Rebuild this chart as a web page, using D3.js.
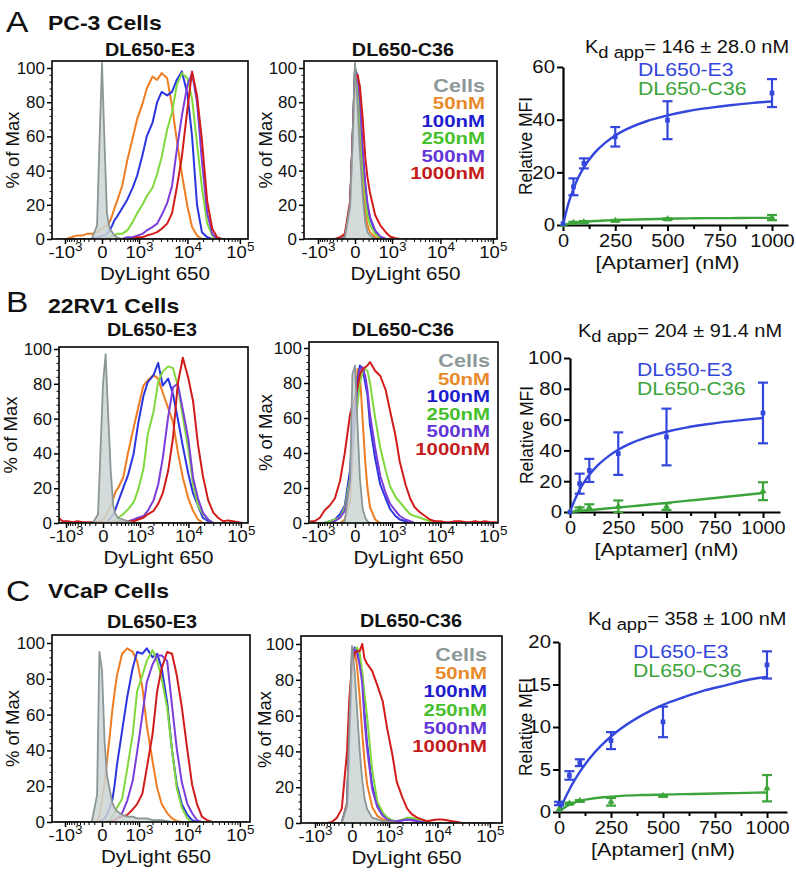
<!DOCTYPE html>
<html><head><meta charset="utf-8">
<script src="https://cdn.jsdelivr.net/npm/d3@7"></script>
<style>
body{margin:0;background:#fff}
svg{display:block}
text{font-family:"Liberation Sans",Arial,Helvetica,sans-serif}
</style>
</head><body>
<svg id="fig" width="796" height="874"></svg>
<script>
// ---------------- DATA ----------------
// flow-cytometry histogram bins (DyLight 650 fluorescence)
const flBins = [-1500,-1200,-900,-700,-500,-350,-230,-140,-60,-30,
  0,30,60,100,140,180,230,
  350,500,700,900,1200,1500,2000,2500,3100,4000,
  5000,6200,7800,10000,12300,15300,19000,24000,30000,37000,
  46000,57000,71000,88000,110000,136000];
const sampleNames = ["Cells","50nM","100nM","250nM","500nM","1000nM"];
const histTicksX = [-1000,0,1000,10000,100000];
const histTickLabels = [["-10","3"],["0",""],["10","3"],["10","4"],["10","5"]];
const histMinorX = [-900,-800,-700,-600,-500,-400,-300,-200,-100,100,200,300,400,500,600,700,800,900,
  2000,3000,4000,5000,6000,7000,8000,9000,20000,30000,40000,50000,60000,70000,80000,90000];
const histTicksY = [0,20,40,60,80,100];
const histMinorY = [4,8,12,16,24,28,32,36,44,48,52,56,64,68,72,76,84,88,92,96];

// % of Max per bin: [Cells, 50nM, 100nM, 250nM, 500nM, 1000nM]
const pc3E3 = [
 [0,0,0,0,0,0,0,0,8,55, 103,55,15,6,4,2,1, 0,0,0,0,0,0,0,0,0,0, 0,0,0,0,0,0,0,0,0,0, 0,0,0,0,0,0],
 [0,0,0,1,2,2,3,3,4,5, 6,7,8,10,14,18,22, 31,46,59,70,79,88,95,93,97,94, 78,58,38,19,7,2,0,0,0,0, 0,0,0,0,0,0],
 [0,0,0,0,0,0,0,0,1,1, 2,2,3,5,8,11,13, 18,23,30,37,49,60,68,80,86,84, 86,93,98,85,60,20,4,1,0,0, 0,0,0,0,0,0],
 [0,0,0,0,0,0,0,0,0,0, 0,0,1,1,2,2,3, 3,5,10,15,20,25,30,38,48,64, 74,90,97,94,82,56,30,9,2,0, 0,0,0,0,0,0],
 [0,0,0,0,0,0,0,0,0,0, 0,0,0,0,0,0,0, 0,1,1,2,3,5,7,9,14,21, 31,52,72,90,97,80,46,15,3,0, 0,0,0,0,0,0],
 [0,0,0,0,0,0,0,0,0,0, 0,0,0,0,0,0,0, 0,0,0,1,1,2,3,4,6,9, 15,30,48,76,98,84,58,22,6,1, 0,0,0,0,0,0]
];
const pc3C36 = [
 [0,0,0,0,0,0,0,1,20,55, 103,78,50,25,10,4,2, 0,0,0,0,0,0,0,0,0,0, 0,0,0,0,0,0,0,0,0,0, 0,0,0,0,0,0],
 [0,0,0,0,0,0,0,1,18,55, 100,85,60,32,16,8,4, 1,0,0,0,0,0,0,0,0,0, 0,0,0,0,0,0,0,0,0,0, 0,0,0,0,0,0],
 [0,0,0,0,0,0,0,1,18,55, 100,95,80,48,31,19,12, 4,1,0,0,0,0,0,0,0,0, 0,0,0,0,0,0,0,0,0,0, 0,0,0,0,0,0],
 [0,0,0,0,0,0,0,1,18,55, 100,90,70,42,25,14,8, 3,0.5,0,0,0,0,0,0,0,0, 0,0,0,0,0,0,0,0,0,0, 0,0,0,0,0,0],
 [0,0,0,0,0,0,0,1,18,55, 98,95,82,52,33,21,13, 5,1.5,0,0,0,0,0,0,0,0, 0,0,0,0,0,0,0,0,0,0, 0,0,0,0,0,0],
 [0,0,0,0,0,0,1,3,22,55, 93,96,89,70,48,36,27, 14,8,4,1.5,0.5,0,0,0,0,0, 0,0,0,0,0,0,0,0,0,0, 0,0,0,0,0,0]
];
const rv1E3 = [
 [0,0,0,0,0,0,0,0,5,40, 80,97,65,30,10,5,3, 2,1,0,0,0,0,0,0,0,0, 0,0,0,0,0,0,0,0,0,0, 0,0,0,0,0,0],
 [0,0,0,0,0,0,0,0,1,1, 2,4,7,10,14,18,20, 26,41,55,66,79,82,85,83,75,66, 58,41,26,14,7,2,0,0,0,0, 0,0,0,0,0,0],
 [0,0,0,0,0,0,0,0,0,0, 0,0,1,3,5,8,12, 20,28,40,57,73,81,85,92,79,83, 74,60,44,28,17,10,3,1,0,0, 0,0,0,0,0,0],
 [0,0,0,0,0,0,0,0,0,0, 0,0,0,0,1,2,3, 5,8,12,19,31,51,64,81,87,90, 89,79,61,42,22,10,5,2,0,0, 0,0,0,0,0,0],
 [0,0,0,0,0,0,0,0,0,0, 0,0,0,0,0,0,0, 0,1,2,3,4,7,13,22,37,61, 78,80,65,48,26,14,6,2,0,0, 0,0,0,0,0,0],
 [3,1,1,0.5,1,0.5,0.5,0.5,0.5,0.5, 0.5,0.5,0.5,0.5,0.5,0.5,1, 1,1,1,2,3,5,7,11,17,30, 49,80,95,83,70,45,27,13,6,3, 1,1.5,1,0.5,0,0]
];
const rv1C36 = [
 [0,0,0,0,0,0,0,1,25,85, 90,55,25,8,3,1,0, 0,0,0,0,0,0,0,0,0,0, 0,0,0,0,0,0,0,0,0,0, 0,0,0,0,0,0],
 [0,0,0,0,0,0,0,2,12,35, 65,88,85,58,35,20,9, 2,0,0,0,0,0,0,0,0,0, 0,0,0,0,0,0,0,0,0,0, 0,0,0,0,0,0],
 [0,0,0,0,1,2,5,10,30,50, 70,82,90,88,80,73,56, 37,22,14,8,4,2,1,0,0,0, 0,0,0,0,0,0,0,0,0,0, 0,0,0,0,0,0],
 [0,0,0,0,1,2,3,9,25,40, 55,68,81,86,88,87,80, 60,43,30,21,15,12,8,5,4,3, 2,1,1,0,0,0,0,0,0,0, 0,0,0,0,0,0],
 [0,0,0,0,0,1,3,7,22,42, 62,78,88,89,84,76,62, 43,27,17,11,7,4,2,1,0,0, 0,0,0,0,0,0,0,0,0,0, 0,0,0,0,0,0],
 [1,1,3,7,10,14,24,40,62,67, 72,78,85,88,89,90,92, 87,84,76,64,50,35,22,14,9,6, 4,2,1,1,0.5,0.5,1,1,0.5,0.5, 1,0.5,1,0.5,0.5,0]
];
const vcapE3 = [
 [0,0,0,0,0,0,0,0,15,95, 85,45,26,18,11,8,6, 4,3,3,2,2,2,1,1,1,0.5, 0,0,0,0,0,0,0,0,0,0, 0,0,0,0,0,0],
 [0,0,0,0,0,0,0,0,0,3, 12,22,34,48,62,72,82, 94,97,95,90,75,54,34,19,10,5, 2,0.5,0,0,0,0,0,0,0,0, 0,0,0,0,0,0],
 [0,0,0,0,0,0,0,0,0,0, 1,2,4,8,12,20,32, 51,70,86,95,94,97,92,94,86,67, 40,21,10,4,1,0,0,0,0,0, 0,0,0,0,0,0],
 [0,0,0,0,0,0,0,0,0,0, 0,0,0,1,3,5,8, 13,30,49,73,82,90,96,90,80,64, 40,19,8,2,0,0,0,0,0,0, 0,0,0,0,0,0],
 [0,0,0,0,0,0,0,0,0,0, 0,0,0,0,0,1,2, 5,12,23,39,60,78,88,93,93,90, 65,41,22,10,5,1,0,0,0,0, 0,0,0,0,0,0],
 [0,0,0,0,0,0,0,0,0,0, 0,0,0.5,0.5,1,1,2, 3,4,7,10,16,30,49,73,86,95, 94,82,64,40,21,10,3,1,0,0, 0,0,0,0,0,0]
];
const vcapC36 = [
 [0,0,0,0,0,0,0,0,10,55, 99,85,64,40,24,14,8, 3,2,1,1,0.5,0,0,0,0,0, 0,0,0,0,0,0,0,0,0,0, 0,0,0,0,0,0],
 [0,0,0,0,0,0,0,0,12,55, 97,96,88,70,50,35,22, 9,4,2,1,0.5,0,0,0,0,0, 0,0,0,0,0,0,0,0,0,0, 0,0,0,0,0,0],
 [0,0,0,0,0,0,0,0,10,50, 92,98,96,90,83,62,45, 21,10,5,3,1,1,1.5,2,2,1.5, 1,0.5,0,0,0,0,0,0,0,0, 0,0,0,0,0,0],
 [0,0,0,0,0,0,0,0,10,50, 90,97,98,95,84,72,60, 30,12,6,3,1.5,1,2,3,3,2, 1,0.5,0,0,0,0,0,0,0,0, 0,0,0,0,0,0],
 [0,0,0,0,0,0,0,0,10,48, 90,97,95,88,78,58,42, 19,9,4,2,1,1,1.5,2,1.5,1, 0.5,0,0,0,0,0,0,0,0,0, 0,0,0,0,0,0],
 [0,0,0,0,0,0.5,3,8,40,70, 88,95,96,96,100,92,89, 85,77,68,53,38,23,14,8,5,3, 2,1,1.5,2,2,1.5,1,0.5,0,0, 0,0,0,0,0,0]
];

// binding curves (Relative MFI vs [Aptamer] nM)
const concs = [0,50,100,250,500,1000];
const pc3BindE3  = [0.5,14.5,23.4,33.5,39.8,50.1];
const pc3ErrE3   = [0,3.2,1.9,3.7,7.2,5.3];
const pc3BindC36 = [0,0.8,1.1,1.6,2.2,2.8];
const pc3ErrC36  = [0,0.4,0.4,0.3,0.3,1.0];
const rv1BindE3  = [0,18.4,27,37.9,48.7,64.3];
const rv1ErrE3   = [0,6.5,7.5,13.8,18.4,19.7];
const rv1BindC36 = [0,2,3,3.5,3.5,13.5];
const rv1ErrC36  = [0,1,2,4,2.2,5.8];
const vcapBindE3  = [1.0,4.3,5.8,8.4,10.6,17.3];
const vcapErrE3   = [0.2,0.5,0.4,1.0,1.8,1.6];
const vcapBindC36 = [0.3,1.0,1.3,1.2,1.9,2.8];
const vcapErrC36  = [0,0.1,0.1,0.45,0.1,1.55];
const fitConc   = [0,25,50,75,100,150,200,250,300,400,500,600,700,800,900,1000];
const pc3FitE3  = [0,7.9,13.7,18.3,21.9,27.3,31.1,34.0,36.2,39.4,41.6,43.3,44.5,45.5,46.3,46.9];
const pc3FitC36 = [0,0.4,0.7,1.0,1.2,1.5,1.7,1.9,2.0,2.2,2.4,2.5,2.6,2.6,2.7,2.7];
const rv1FitE3  = [0,8.0,14.4,19.7,24.2,31.1,36.3,40.4,43.7,48.6,52.1,54.8,56.8,58.5,59.8,61.0];
const rv1FitC36 = [0,0.3,0.6,0.9,1.2,1.8,2.4,2.9,3.5,4.7,5.9,7.2,8.4,9.7,11.0,12.3];
const vcapFitE3  = [0,1.4,2.65,3.74,4.72,6.38,7.74,8.88,9.85,11.4,12.6,13.5,14.3,14.9,15.5,15.9];
const vcapFitC36 = [0,0.5,0.85,1.1,1.3,1.55,1.7,1.8,1.9,2.0,2.05,2.1,2.15,2.2,2.25,2.3];
const bindTicksX = [0,250,500,750,1000];
const bindMinorX = [125,375,625,875];
const pc3TicksY = [0,20,40,60];
const rv1TicksY = [0,20,40,60,80,100];
const vcapTicksY = [0,5,10,15,20];
const kdLabels = ["= 146 \u00B1 28.0 nM","= 204 \u00B1 91.4 nM","= 358 \u00B1 100 nM"];
const rowLetters = ["A","B","C"];
const rowNames = ["PC-3 Cells","22RV1 Cells","VCaP Cells"];

// ---------------- STYLE / LAYOUT ----------------
const lineColors = ["#8b9797","#ef7d22","#2a35e0","#80d83c","#7b3ddc","#d21c1c"];
const legendColors = ["#8d9999","#e8892a","#1c1cce","#46c02a","#6236d6","#c41b1b"];
const blueB = "#3447dc", greenB = "#3ca43a";

const svg = d3.select("#fig");

function stretch(sel, sx) {
  sel.attr("transform", function() {
    const t = d3.select(this);
    const x = +t.attr("x") || 0, y = +t.attr("y") || 0;
    return `translate(${x},${y}) scale(${sx},1) translate(${-x},${-y})`;
  });
}

const rowLayout = [
  {letterY:32, nameY:30},
  {letterY:312, nameY:313},
  {letterY:601, nameY:598}
];
rowLayout.forEach((r,i)=>{
  stretch(svg.append("text").attr("x",6).attr("y",r.letterY).attr("font-size",30).attr("fill","#111").text(rowLetters[i]),1.12);
  stretch(svg.append("text").attr("x",48).attr("y",r.nameY).attr("font-size",20).attr("font-weight","bold").attr("fill","#111").text(rowNames[i]),1.15);
});

const histLayout = [
 {data:pc3E3,  left:52, right:248, zero:102, top:61,  y100:68,  bottom:239, title:"DL650-E3",  tx:150, ty:56,  ylx:13},
 {data:pc3C36, left:304,right:497, zero:355, top:61,  y100:68,  bottom:239, title:"DL650-C36", tx:403, ty:56,  ylx:266, leg:{x:485,y:92,step:17.4}},
 {data:rv1E3,  left:59, right:248, zero:103, top:347, y100:349, bottom:523, title:"DL650-E3",  tx:152, ty:336, ylx:11},
 {data:rv1C36, left:309,right:498, zero:355, top:342, y100:348, bottom:523, title:"DL650-C36", tx:403, ty:336, ylx:266, leg:{x:490,y:367,step:17.6}},
 {data:vcapE3, left:52, right:250, zero:102, top:635, y100:643, bottom:822, title:"DL650-E3",  tx:152, ty:628, ylx:13},
 {data:vcapC36,left:301,right:502, zero:352, top:636, y100:644, bottom:823, title:"DL650-C36", tx:411, ty:627, ylx:265, leg:{x:487,y:661,step:18.2}}
];

histLayout.forEach((L,pi)=>{
  const u = 23, c = 250;
  const xmin = -c*(Math.exp((L.zero-L.left)/u)-1);
  const xmax = c*(Math.exp((L.right-L.zero)/u)-1);
  const x = d3.scaleSymlog().constant(c).domain([xmin,xmax]).range([L.left,L.right]);
  const y = d3.scaleLinear().domain([0,100]).range([L.bottom,L.y100]);
  const g = svg.append("g");
  const cid = "clip"+pi;
  g.append("clipPath").attr("id",cid).append("rect")
    .attr("x",L.left).attr("y",L.top).attr("width",L.right-L.left).attr("height",L.bottom-L.top);
  const plot = g.append("g").attr("clip-path",`url(#${cid})`);
  const line = d3.line().x((d,i)=>x(flBins[i])).y(d=>y(d));
  const area = d3.area().x((d,i)=>x(flBins[i])).y0(y(0)).y1(d=>y(d));
  for (let k=1;k<6;k++) {
    plot.append("path").datum(L.data[k]).attr("d",line).attr("fill","none")
      .attr("stroke",lineColors[k]).attr("stroke-width",2).attr("stroke-linejoin","round");
  }
  plot.append("path").datum(L.data[0]).attr("d",area).attr("fill","#cdd5d5").attr("fill-opacity",0.85);
  plot.append("path").datum(L.data[0]).attr("d",line).attr("fill","none")
    .attr("stroke",lineColors[0]).attr("stroke-width",1.8).attr("stroke-linejoin","round");

  // y axis
  const gy = g.append("g").attr("transform",`translate(${L.left},0)`)
    .call(d3.axisLeft(y).tickValues(histTicksY).tickSize(5).tickPadding(2));
  gy.select(".domain").remove();
  gy.selectAll("line").attr("stroke","#000").attr("stroke-width",1.5);
  gy.selectAll("text").attr("font-size",17).attr("fill","#111").attr("font-family",'"Liberation Sans",Arial,sans-serif');
  const gym = g.append("g").attr("transform",`translate(${L.left},0)`)
    .call(d3.axisLeft(y).tickValues(histMinorY).tickSize(2.5).tickFormat(""));
  gym.select(".domain").remove();
  gym.selectAll("line").attr("stroke","#000").attr("stroke-width",1);

  // x axis
  const gx = g.append("g").attr("transform",`translate(0,${L.bottom})`)
    .call(d3.axisBottom(x).tickValues(histTicksX).tickSize(5).tickFormat(""));
  gx.select(".domain").remove();
  gx.selectAll("line").attr("stroke","#000").attr("stroke-width",1.5);
  gx.selectAll(".tick").each(function(d,i){
    const t = d3.select(this).append("text").attr("x",0).attr("y",19)
      .attr("text-anchor","middle").attr("fill","#111").attr("font-size",16.5)
      .attr("font-family",'"Liberation Sans",Arial,sans-serif');
    t.append("tspan").text(histTickLabels[i][0]);
    if (histTickLabels[i][1]) t.append("tspan").attr("dy",-7).attr("font-size",12).text(histTickLabels[i][1]);
    stretch(t,1.12);
  });
  const gxm = g.append("g").attr("transform",`translate(0,${L.bottom})`)
    .call(d3.axisBottom(x).tickValues(histMinorX.filter(v=>v>xmin && v<xmax)).tickSize(3).tickFormat(""));
  gxm.select(".domain").remove();
  gxm.selectAll("line").attr("stroke","#000").attr("stroke-width",1);

  // box
  g.append("rect").attr("x",L.left).attr("y",L.top).attr("width",L.right-L.left).attr("height",L.bottom-L.top)
    .attr("fill","none").attr("stroke","#000").attr("stroke-width",1.6);

  // labels
  stretch(g.append("text").attr("x",L.tx).attr("y",L.ty).attr("text-anchor","middle")
    .attr("font-size",18.5).attr("font-weight","bold").attr("fill","#111").text(L.title),1.07);
  stretch(g.append("text").attr("x",(L.left+L.right)/2+5).attr("y",L.bottom+41).attr("text-anchor","middle")
    .attr("font-size",17.5).attr("fill","#111").text("DyLight 650"),1.18);
  g.append("text").attr("transform",`translate(${L.ylx},${(L.top+L.bottom)/2}) rotate(-90)`)
    .attr("text-anchor","middle").attr("dy","0.35em").attr("font-size",18.5).attr("fill","#111").text("% of Max");

  if (L.leg) {
    sampleNames.forEach((s,k)=>{
      stretch(g.append("text").attr("x",L.leg.x).attr("y",L.leg.y+k*L.leg.step).attr("text-anchor","end")
        .attr("font-size",k===0?18:17).attr("font-weight","bold").attr("fill",legendColors[k]).text(s),1.2);
    });
  }
});

// ---------------- BINDING PANELS ----------------
const bindLayout = [
 {E3:pc3BindE3,E3e:pc3ErrE3,C:pc3BindC36,Ce:pc3ErrC36,fE:pc3FitE3,fC:pc3FitC36,ticks:pc3TicksY,yMax:60,
  x0:563,x1000:772,xEnd:788,y0:225,yTop:67,kdX:585,kdY:53,legX:638,legY:76,legStep:19,ylx:526,kd:kdLabels[0]},
 {E3:rv1BindE3,E3e:rv1ErrE3,C:rv1BindC36,Ce:rv1ErrC36,fE:rv1FitE3,fC:rv1FitC36,ticks:rv1TicksY,yMax:100,
  x0:570,x1000:763,xEnd:780,y0:512,yTop:358,kdX:578,kdY:337,legX:637,legY:376,legStep:19,ylx:527,kd:kdLabels[1]},
 {E3:vcapBindE3,E3e:vcapErrE3,C:vcapBindC36,Ce:vcapErrC36,fE:vcapFitE3,fC:vcapFitC36,ticks:vcapTicksY,yMax:20,
  x0:559,x1000:767,xEnd:787,y0:812,yTop:642,kdX:588,kdY:625,legX:633,legY:658,legStep:19,ylx:526,kd:kdLabels[2]}
];

bindLayout.forEach(L=>{
  const xMax = 1000*(L.xEnd-L.x0)/(L.x1000-L.x0);
  const x = d3.scaleLinear().domain([0,xMax]).range([L.x0,L.xEnd]);
  const y = d3.scaleLinear().domain([0,L.yMax]).range([L.y0,L.yTop]);
  const g = svg.append("g");

  const gx = g.append("g").attr("transform",`translate(0,${L.y0})`)
    .call(d3.axisBottom(x).tickValues(bindTicksX).tickFormat(d3.format("d")).tickSize(6).tickPadding(3).tickSizeOuter(0));
  gx.select(".domain").attr("stroke","#000").attr("stroke-width",2.2);
  gx.selectAll("line").attr("stroke","#000").attr("stroke-width",2);
  gx.selectAll("text").attr("font-size",18.5).attr("fill","#111").attr("font-family",'"Liberation Sans",Arial,sans-serif');
  stretch(gx.selectAll("text"),1.08);
  const gxm = g.append("g").attr("transform",`translate(0,${L.y0})`)
    .call(d3.axisBottom(x).tickValues(bindMinorX).tickSize(4).tickFormat(""));
  gxm.select(".domain").remove();
  gxm.selectAll("line").attr("stroke","#000").attr("stroke-width",2);

  const gy = g.append("g").attr("transform",`translate(${L.x0},0)`)
    .call(d3.axisLeft(y).tickValues(L.ticks).tickFormat(d3.format("d")).tickSize(6).tickPadding(2).tickSizeOuter(0));
  gy.select(".domain").attr("stroke","#000").attr("stroke-width",2.2);
  gy.selectAll("line").attr("stroke","#000").attr("stroke-width",2);
  gy.selectAll("text").attr("font-size",18.5).attr("fill","#111").attr("font-family",'"Liberation Sans",Arial,sans-serif');
  stretch(gy.selectAll("text"),1.1);

  const fit = d3.line().curve(d3.curveMonotoneX).x((d,i)=>x(fitConc[i])).y(d=>y(d));
  g.append("path").datum(L.fC).attr("d",fit).attr("fill","none").attr("stroke",greenB).attr("stroke-width",2.4);
  g.append("path").datum(L.fE).attr("d",fit).attr("fill","none").attr("stroke",blueB).attr("stroke-width",2.4);

  function series(vals, errs, col, sym) {
    vals.forEach((v,i)=>{
      const e = errs[i], cx = x(concs[i]);
      if (e > 0) {
        const lo = Math.max(0, v-e), hi = v+e;
        g.append("line").attr("x1",cx).attr("x2",cx).attr("y1",y(lo)).attr("y2",y(hi)).attr("stroke",col).attr("stroke-width",2.2);
        [lo,hi].forEach(b=>g.append("line").attr("x1",cx-5).attr("x2",cx+5).attr("y1",y(b)).attr("y2",y(b)).attr("stroke",col).attr("stroke-width",2.2));
      }
      g.append("path").attr("d",d3.symbol().type(sym).size(22)()).attr("transform",`translate(${cx},${y(v)})`).attr("fill",col);
    });
  }
  series(L.C, L.Ce, greenB, d3.symbolTriangle);
  series(L.E3, L.E3e, blueB, d3.symbolSquare);

  // texts
  const kd = g.append("text").attr("x",L.kdX).attr("y",L.kdY).attr("font-size",18.5).attr("fill","#111");
  kd.append("tspan").text("K");
  kd.append("tspan").attr("dy",5).attr("font-size",17).text("d app");
  kd.append("tspan").attr("dy",-5).text(L.kd);
  stretch(kd,1.08);
  stretch(g.append("text").attr("x",L.legX).attr("y",L.legY).attr("font-size",18).attr("fill",blueB).text("DL650-E3"),1.18);
  stretch(g.append("text").attr("x",L.legX).attr("y",L.legY+L.legStep).attr("font-size",18).attr("fill",greenB).text("DL650-C36"),1.18);
  stretch(g.append("text").attr("x",(L.x0+L.x1000)/2).attr("y",L.y0+44).attr("text-anchor","middle")
    .attr("font-size",18).attr("fill","#111").text("[Aptamer] (nM)"),1.2);
  g.append("text").attr("transform",`translate(${L.ylx},${(L.y0+L.yTop)/2}) rotate(-90)`)
    .attr("text-anchor","middle").attr("dy","0.35em").attr("font-size",17.5).attr("fill","#111").text("Relative MFI");
});
</script>
</body></html>
